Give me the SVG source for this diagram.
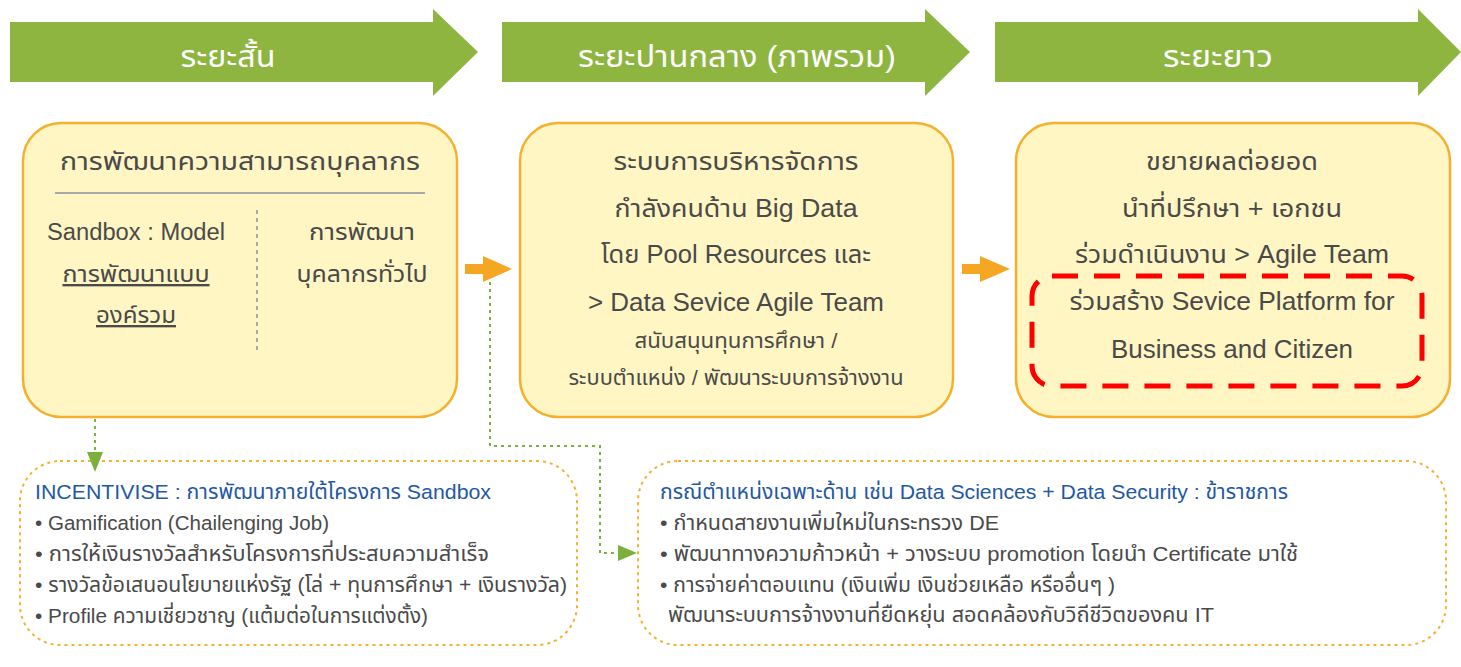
<svg xmlns="http://www.w3.org/2000/svg" width="1461" height="667" viewBox="0 0 1461 667">
<defs>
<style>
.t{font-family:"Liberation Sans","Noto Sans Thai","Noto Sans",sans-serif;fill:#4a4a4a;}
.ban{font-family:"Liberation Sans","Noto Sans Thai","Noto Sans",sans-serif;fill:#ffffff;font-size:30px;text-anchor:middle;}
.box{fill:#FFF6C4;stroke:#F5B02E;stroke-width:2.5;}
.dbox{fill:none;stroke:#F5B02E;stroke-width:2;stroke-dasharray:3 4;}
.green{fill:#8DB53F;}
.conn{fill:none;stroke:#7BB03C;stroke-width:2;stroke-dasharray:3 4;}
.c{text-anchor:middle;}
.blue{fill:#2358A6;}
.b{font-size:25.5px;}
.s{font-size:21px;}
.m{font-size:23.5px;}
.f{font-size:20.5px;}
</style>
</defs>
<rect width="1461" height="667" fill="#ffffff"/>
<g id="banner1"><path class="green" d="M10,22 H433 V9 L478,52 L433,96 V82 H10 Z"/><text class="ban" x="228" y="67" textLength="95" lengthAdjust="spacingAndGlyphs">ระยะสั้น</text></g>
<g id="banner2"><path class="green" d="M502,22 H925 V9 L970,52 L925,96 V82 H502 Z"/><text class="ban" x="737" y="67" textLength="318" lengthAdjust="spacingAndGlyphs">ระยะปานกลาง (ภาพรวม)</text></g>
<g id="banner3"><path class="green" d="M995,22 H1418 V9 L1461,52 L1418,96 V82 H995 Z"/><text class="ban" x="1218" y="67" textLength="110" lengthAdjust="spacingAndGlyphs">ระยะยาว</text></g>
<g id="box1">
<rect class="box" x="23" y="123" width="434" height="294" rx="38"/>
<text class="t c b" x="240" y="170" textLength="360" lengthAdjust="spacingAndGlyphs">การพัฒนาความสามารถบุคลากร</text>
<line x1="55" y1="193" x2="425" y2="193" stroke="#A9A9A9" stroke-width="2"/>
<line x1="257" y1="210" x2="257" y2="353" stroke="#A9A9A9" stroke-width="2" stroke-dasharray="4 4"/>
<text class="t c m" x="136" y="240" textLength="178" lengthAdjust="spacingAndGlyphs">Sandbox : Model</text>
<text class="t c m" x="136" y="282" text-decoration="underline" textLength="147" lengthAdjust="spacingAndGlyphs">การพัฒนาแบบ</text>
<text class="t c m" x="136" y="323" text-decoration="underline" textLength="80" lengthAdjust="spacingAndGlyphs">องค์รวม</text>
<text class="t c m" x="362" y="240" textLength="106" lengthAdjust="spacingAndGlyphs">การพัฒนา</text>
<text class="t c m" x="362" y="282" textLength="131" lengthAdjust="spacingAndGlyphs">บุคลากรทั่วไป</text>
</g>
<g id="box2">
<rect class="box" x="520" y="123" width="433" height="294" rx="38"/>
<text class="t c b" x="736" y="170" textLength="245" lengthAdjust="spacingAndGlyphs">ระบบการบริหารจัดการ</text>
<text class="t c b" x="736" y="217" textLength="243" lengthAdjust="spacingAndGlyphs">กำลังคนด้าน Big Data</text>
<text class="t c b" x="736" y="263" textLength="270" lengthAdjust="spacingAndGlyphs">โดย Pool Resources และ</text>
<text class="t c b" x="736" y="311" textLength="296" lengthAdjust="spacingAndGlyphs">&gt; Data Sevice Agile Team</text>
<text class="t c s" x="736" y="348" textLength="203" lengthAdjust="spacingAndGlyphs">สนับสนุนทุนการศึกษา /</text>
<text class="t c s" x="736" y="385" textLength="335" lengthAdjust="spacingAndGlyphs">ระบบตำแหน่ง / พัฒนาระบบการจ้างงาน</text>
</g>
<g id="box3">
<rect class="box" x="1016" y="123" width="434" height="294" rx="38"/>
<text class="t c b" x="1232" y="170" textLength="172" lengthAdjust="spacingAndGlyphs">ขยายผลต่อยอด</text>
<text class="t c b" x="1232" y="217" textLength="220" lengthAdjust="spacingAndGlyphs">นำที่ปรึกษา + เอกชน</text>
<text class="t c b" x="1232" y="263" textLength="314" lengthAdjust="spacingAndGlyphs">ร่วมดำเนินงาน &gt; Agile Team</text>
<rect x="1032" y="276" width="390" height="110" rx="20" fill="none" stroke="#FF0000" stroke-width="5" stroke-dasharray="26 16"/>
<text class="t c b" x="1232" y="310" textLength="325" lengthAdjust="spacingAndGlyphs">ร่วมสร้าง Sevice Platform for</text>
<text class="t c b" x="1232" y="358" textLength="242" lengthAdjust="spacingAndGlyphs">Business and Citizen</text>
</g>
<g id="box4">
<rect class="dbox" x="20" y="461" width="557" height="184" rx="40"/>
<text class="t blue f" x="35" y="499" textLength="456" lengthAdjust="spacingAndGlyphs">INCENTIVISE : การพัฒนาภายใต้โครงการ Sandbox</text>
<text class="t f" x="35" y="530" textLength="294" lengthAdjust="spacingAndGlyphs">• Gamification (Chailenging Job)</text>
<text class="t f" x="35" y="561" textLength="454" lengthAdjust="spacingAndGlyphs">• การให้เงินรางวัลสำหรับโครงการที่ประสบความสำเร็จ</text>
<text class="t f" x="35" y="592" textLength="532" lengthAdjust="spacingAndGlyphs">• รางวัลข้อเสนอนโยบายแห่งรัฐ (โล่ + ทุนการศึกษา + เงินรางวัล)</text>
<text class="t f" x="35" y="623" textLength="393" lengthAdjust="spacingAndGlyphs">• Profile ความเชี่ยวชาญ (แต้มต่อในการแต่งตั้ง)</text>
</g>
<g id="box5">
<rect class="dbox" x="638" y="461" width="808" height="184" rx="40"/>
<text class="t blue f" x="660" y="499" textLength="628" lengthAdjust="spacingAndGlyphs">กรณีตำแหน่งเฉพาะด้าน เช่น Data Sciences + Data Security : ข้าราชการ</text>
<text class="t f" x="660" y="530" textLength="339" lengthAdjust="spacingAndGlyphs">• กำหนดสายงานเพิ่มใหม่ในกระทรวง DE</text>
<text class="t f" x="660" y="561" textLength="638" lengthAdjust="spacingAndGlyphs">• พัฒนาทางความก้าวหน้า + วางระบบ promotion โดยนำ  Certificate มาใช้</text>
<text class="t f" x="660" y="592" textLength="455" lengthAdjust="spacingAndGlyphs">• การจ่ายค่าตอบแทน (เงินเพิ่ม เงินช่วยเหลือ หรืออื่นๆ )</text>
<text class="t f" x="668" y="622" textLength="546" lengthAdjust="spacingAndGlyphs">พัฒนาระบบการจ้างงานที่ยืดหยุ่น สอดคล้องกับวิถีชีวิตของคน IT</text>
</g>
<g id="connectors">
<path d="M465,264 H483 V256 L512,269 L483,282 V274 H465 Z" fill="#F5A623"/>
<path d="M962,264 H980 V256 L1010,269 L980,282 V274 H962 Z" fill="#F5A623"/>
<path class="conn" d="M95,419 V452"/>
<path d="M87,452 L103,452 L95,472 Z" fill="#7BB03C"/>
<path class="conn" d="M490,282 V446 H600 V553 H618"/>
<path d="M618,545 L637,553 L618,561 Z" fill="#7BB03C"/>
</g>
</svg>
